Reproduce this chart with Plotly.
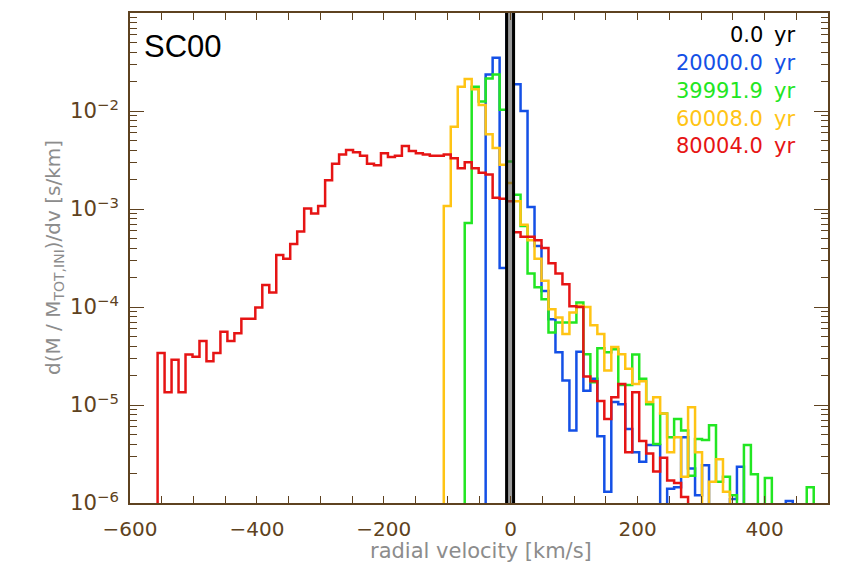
import numpy as np
import plotly.graph_objects as go

# ---------------- data ----------------
BIN_WIDTH = 11.0          # km/s
FIRST_EDGE = -556.5       # left edge of bin index 0 (km/s)
FLOOR = 1e-9              # used for empty bins (below the axis)

labels = ["0.0", "20000.0", "39991.9", "60008.0", "80004.0"]
colors = ["#000000", "#1450e6", "#22e622", "#ffc414", "#e61414"]

# first bin index (0-based) and values of each histogram
black_first = 50
black_vals = [1.0]

blue_first = 47
blue_vals = [2.36e-2, 3.5e-2, 2.5e-4, 0.5, 1.87e-2, 1.0e-2, 1.05e-3, 4.2e-4, 1.46e-4, 7.5e-5,
             3.45e-5, 1.78e-5, 5.5e-6, 3.5e-5, 1.4e-5, 1.85e-5, 4.8e-6, 1.3e-6, 1.07e-5, 1.02e-5,
             5.7e-6, 3.3e-6, 2.63e-6, 3.9e-6, 3.9e-6, 0, 1.4e-6, 1.45e-6, 4.7e-6, 2.25e-6,
             1.2e-6, 2.43e-6, 0, 0, 0, 1.1e-6, 2.35e-6, 0, 0, 0,
             0, 0, 0, 1.05e-6]

green_first = 44
green_vals = [7.2e-4, 1.77e-2, 1.25e-2, 2.15e-2, 2.36e-2, 1.03e-2, 3.06e-3, 1.4e-3, 6.7e-4, 2.2e-4,
              1.59e-4, 1.2e-4, 5.5e-5, 6.95e-5, 6.95e-5, 6.95e-5, 1.11e-4, 3.3e-5, 1.71e-5, 3.8e-5,
              3.45e-5, 3.7e-5, 1.6e-5, 1.6e-5, 3.27e-5, 1.85e-5, 1.02e-5, 4.0e-6, 8.2e-6, 4.7e-6,
              7.2e-6, 5.5e-6, 1.9e-6, 4.5e-6, 4.4e-6, 6.2e-6, 1.65e-6, 1.85e-6, 1.2e-6, 0,
              3.9e-6, 1.97e-6, 0, 1.8e-6, 0, 0, 0, 0, 0, 1.45e-6]

yellow_first = 41
yellow_vals = [1.07e-3, 6.9e-3, 1.77e-2, 2.12e-2, 1.67e-2, 1.15e-2, 5.8e-3, 4.2e-3, 2.83e-3, 1.84e-3,
               1.2e-3, 6.9e-4, 4.8e-4, 3.1e-4, 1.85e-4, 9.5e-5, 7.8e-5, 5.3e-5, 8.8e-5, 1.03e-4,
               1.0e-4, 6.5e-5, 5.3e-5, 2.25e-5, 3.9e-5, 3.3e-5, 2.34e-5, 1.64e-5, 1.75e-5, 1.07e-5,
               1.2e-5, 8.2e-6, 3.3e-6, 4.7e-6, 1.85e-6, 9.5e-6, 3.3e-6, 0, 1.65e-6, 2.8e-6,
               1.3e-6]

red_first = 0
red_vals = [3.4e-5, 1.35e-5, 2.9e-5, 1.35e-5, 3.27e-5, 3.1e-5, 4.5e-5, 2.8e-5, 3.4e-5, 5.6e-5,
            4.5e-5, 5.4e-5, 7.6e-5, 7.6e-5, 9.9e-5, 1.68e-4, 1.41e-4, 3.4e-4, 3.1e-4, 4.4e-4,
            5.9e-4, 1.01e-3, 9.0e-4, 1.07e-3, 1.96e-3, 2.9e-3, 3.6e-3, 4.0e-3, 3.8e-3, 3.5e-3,
            2.9e-3, 2.8e-3, 3.7e-3, 3.4e-3, 3.5e-3, 4.4e-3, 3.9e-3, 3.7e-3, 3.6e-3, 3.5e-3,
            3.5e-3, 3.6e-3, 3.3e-3, 2.6e-3, 3.0e-3, 2.6e-3, 2.35e-3, 2.25e-3, 1.3e-3, 1.27e-3,
            1.2e-3, 5.8e-4, 5.2e-4, 5.2e-4, 4.8e-4, 4.0e-4, 2.8e-4, 2.2e-4, 1.71e-4, 1.02e-4,
            1.0e-4, 1.95e-5, 1.75e-5, 1.1e-5, 7.2e-6, 1.2e-5, 1.64e-5, 3.3e-6, 1.35e-5, 4.3e-6,
            3.2e-6, 2.1e-6, 2.9e-6, 1.7e-6, 1.6e-6, 1.15e-6]

x_range = [-600, 500]
y_exp_range = [-6, -1]
x_ticks_major = 200
x_ticks_minor = 50

# ---------------- styling ----------------
BROWN = "#5e4220"
GRAY = "#8c8c8c"
FONT = "DejaVu Sans"
# page body has an 8px margin: the figure is placed at (8, 8) in the 860x566 window
OFF = 8
W, H = 860 - OFF, 566 - OFF
# plot area in window pixels
PL, PR, PT, PB = 130, 828, 11, 503
ML, MR, MT, MB = PL - OFF, 860 - PR, PT - OFF, 566 - PB
PW, PH = PR - PL, PB - PT


def px_x(p):
    return (p - PL) / PW


def px_y(p):
    return (PB - p) / PH


def step_xy(first, vals):
    edges = FIRST_EDGE + BIN_WIDTH * (first + np.arange(len(vals) + 1))
    xs, ys = [edges[0]], [FLOOR]
    for i, v in enumerate(vals):
        v = v if v > 0 else FLOOR
        xs += [edges[i], edges[i + 1]]
        ys += [v, v]
    xs.append(edges[-1])
    ys.append(FLOOR)
    return xs, ys


fig = go.Figure()
series = [
    (blue_first, blue_vals, colors[1]),
    (green_first, green_vals, colors[2]),
    (yellow_first, yellow_vals, colors[3]),
    (red_first, red_vals, colors[4]),
]
for first, vals, col in series:
    xs, ys = step_xy(first, vals)
    fig.add_trace(go.Scatter(x=xs, y=ys, mode="lines",
                             line=dict(color=col, width=2.5),
                             hoverinfo="skip", showlegend=False))
# the 0.0 yr histogram: a single bin far above the plotted range
xs, ys = step_xy(black_first, black_vals)
fig.add_trace(go.Scatter(x=xs, y=ys, mode="lines", fill="toself",
                         fillcolor="rgba(70,70,70,0.55)",
                         line=dict(color=colors[0], width=3),
                         hoverinfo="skip", showlegend=False))

fig.update_xaxes(
    range=x_range, dtick=x_ticks_major, tick0=0,
    showline=True, linecolor=BROWN, linewidth=1.5, mirror="allticks",
    ticks="inside", ticklen=7, tickcolor=BROWN, tickwidth=1.2,
    minor=dict(dtick=x_ticks_minor, ticks="inside", ticklen=7, tickcolor=BROWN, tickwidth=1.2),
    showgrid=False, zeroline=False, ticklabelstandoff=7,
    tickfont=dict(family=FONT, size=20, color=BROWN),
)
fig.update_yaxes(
    type="log", range=y_exp_range, dtick=1, exponentformat="power", showexponent="all",
    showline=True, linecolor=BROWN, linewidth=1.5, mirror="allticks",
    ticks="inside", ticklen=14, tickcolor=BROWN, tickwidth=1.2,
    minor=dict(dtick="D1", ticks="inside", ticklen=7, tickcolor=BROWN, tickwidth=1.2),
    showgrid=False, zeroline=False, ticklabelstandoff=6,
    tickfont=dict(family=FONT, size=17, color=BROWN),
)

ann = []
ann.append(dict(text="SC00", x=px_x(142), y=px_y(45), xref="paper", yref="paper",
                xanchor="left", yanchor="middle", showarrow=False,
                font=dict(family="Liberation Sans", size=31, color="black")))
leg_y = [33, 61, 89, 117, 145]
for lab, col, yy in zip(labels, colors, leg_y):
    ann.append(dict(text=lab, x=px_x(765), y=px_y(yy), xref="paper", yref="paper",
                    xanchor="right", yanchor="middle", showarrow=False,
                    font=dict(family=FONT, size=21, color=col)))
    ann.append(dict(text="yr", x=px_x(772), y=px_y(yy), xref="paper", yref="paper",
                    xanchor="left", yanchor="middle", showarrow=False,
                    font=dict(family=FONT, size=21, color=col)))
ann.append(dict(text="radial velocity [km/s]", x=px_x(481), y=px_y(551), xref="paper", yref="paper",
                xanchor="center", yanchor="middle", showarrow=False,
                font=dict(family=FONT, size=21, color=GRAY)))
ann.append(dict(text="d(M / M<sub>TOT,INI</sub>)/dv [s/km]", x=px_x(54), y=px_y(257),
                xref="paper", yref="paper", textangle=-90,
                xanchor="center", yanchor="middle", showarrow=False,
                font=dict(family=FONT, size=20, color=GRAY)))

fig.update_layout(
    width=W, height=H, margin=dict(l=ML, r=MR, t=MT, b=MB),
    paper_bgcolor="white", plot_bgcolor="white",
    annotations=ann, showlegend=False,
)
fig.write_html("out.html")
